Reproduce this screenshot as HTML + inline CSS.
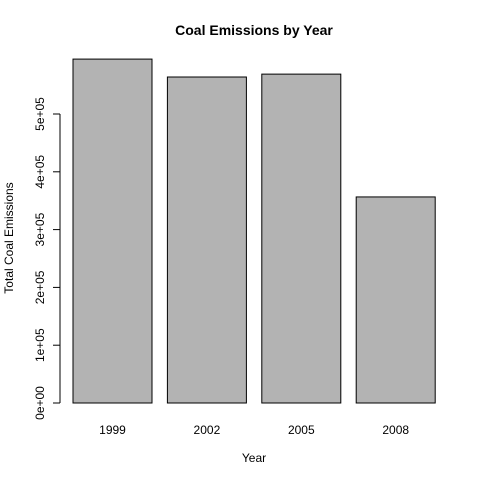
<!DOCTYPE html>
<html><head><meta charset="utf-8"><style>
body{margin:0;background:#fff}
svg text{font-family:"Liberation Sans",Arial,sans-serif;fill:#000}
</style></head><body>
<svg width="480" height="480" viewBox="0 0 480 480">
<text x="254" y="35" text-anchor="middle" font-size="14" font-weight="bold">Coal Emissions by Year</text>
<text x="254" y="462" text-anchor="middle" font-size="12">Year</text>
<text transform="translate(13,238) rotate(-90)" text-anchor="middle" font-size="12">Total Coal Emissions</text>
<g id="bars"></g>
<g id="yaxis"></g>
</svg>
<script>
const categories=["1999","2002","2005","2008"];
const values=[595000,564000,569000,356500];
const yTicks=[0,100000,200000,300000,400000,500000];
const yTickLabels=["0e+00","1e+05","2e+05","3e+05","4e+05","5e+05"];
const ns="http://www.w3.org/2000/svg";
function y(v){return 403-v*0.000578;}
function xLeft(i){return 73+i*94.4;}
const bw=79;
const gb=document.getElementById("bars");
categories.forEach((c,i)=>{
  const r=document.createElementNS(ns,"rect");
  r.setAttribute("x",xLeft(i));r.setAttribute("y",y(values[i]));
  r.setAttribute("width",bw);r.setAttribute("height",y(0)-y(values[i]));
  r.setAttribute("fill","#b3b3b3");r.setAttribute("stroke","#000");r.setAttribute("stroke-width","1");
  
  
  gb.appendChild(r);
  const t=document.createElementNS(ns,"text");
  t.setAttribute("x",xLeft(i)+bw/2);t.setAttribute("y",434);
  t.setAttribute("text-anchor","middle");t.setAttribute("font-size","12");
  t.textContent=c;
  
  
  gb.appendChild(t);
});
const ga=document.getElementById("yaxis");
const ax=document.createElementNS(ns,"line");
ax.setAttribute("x1",60);ax.setAttribute("x2",60);
ax.setAttribute("y1",y(yTicks[0]));ax.setAttribute("y2",y(yTicks[yTicks.length-1]));
ax.setAttribute("stroke","#000");


ga.appendChild(ax);
yTicks.forEach((v,i)=>{
  const l=document.createElementNS(ns,"line");
  l.setAttribute("x1",53);l.setAttribute("x2",60);l.setAttribute("y1",y(v));l.setAttribute("y2",y(v));
  l.setAttribute("stroke","#000");
  
  
  ga.appendChild(l);
  const t=document.createElementNS(ns,"text");
  t.setAttribute("transform","translate(44,"+y(v)+") rotate(-90)");
  t.setAttribute("text-anchor","middle");t.setAttribute("font-size","12");
  t.textContent=yTickLabels[i];
  
  
  ga.appendChild(t);
});
</script>
</body></html>
